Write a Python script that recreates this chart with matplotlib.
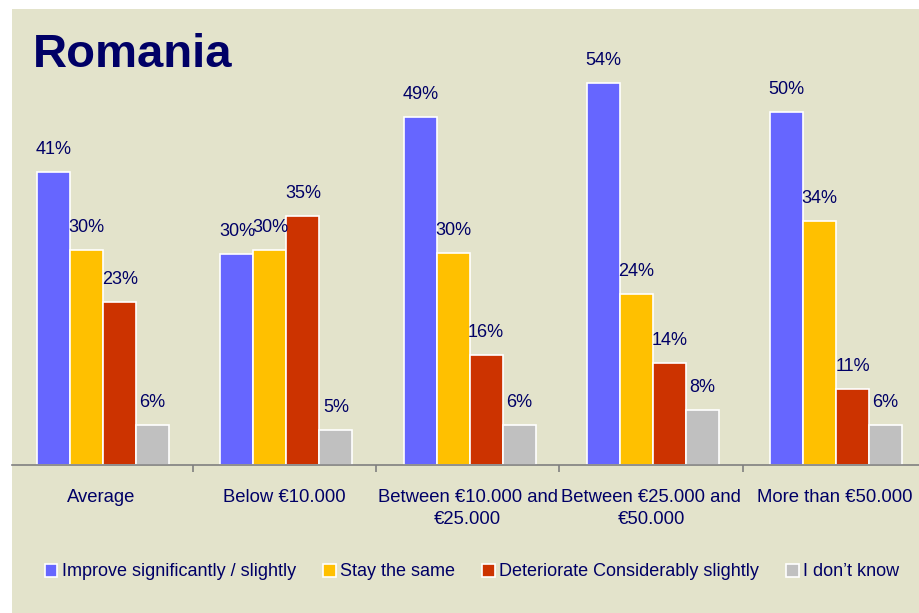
import matplotlib.pyplot as plt
from matplotlib.patches import Rectangle, Patch
import numpy as np

plt.rcParams["font.family"] = ["Liberation Sans", "DejaVu Sans"]

# data
categories = ["Average", "Below €10.000", "Between €10.000 and\n€25.000",
              "Between €25.000 and\n€50.000", "More than €50.000"]
series_names = ["Improve significantly / slightly", "Stay the same",
                "Deteriorate Considerably slightly", "I don\u2019t know"]
improve = [41.4, 29.8, 49.1, 54.0, 49.8]
same = [30.3, 30.4, 30.0, 24.2, 34.4]
deteriorate = [23.0, 35.1, 15.6, 14.4, 10.8]
dont_know = [5.7, 5.0, 5.7, 7.8, 5.6]

colors = ["#6666FF", "#FFC000", "#CC3300", "#C0C0C0"]
BG = "#E3E3CB"
NAVY = "#000066"

W, H = 920, 613
fig = plt.figure(figsize=(W / 100, H / 100), dpi=100, facecolor="white")

# beige panel
fig.patches.append(Rectangle((12 / W, 0), 1, (H - 9) / H, transform=fig.transFigure,
                             facecolor=BG, edgecolor="none", zorder=-10))

ax = fig.add_axes([12 / W, (H - 465) / H, 914 / W, 424.8 / H])
ax.set_facecolor("none")
ax.set_xlim(-0.4875, 4.5)
ax.set_ylim(0, 60)

x = np.arange(len(categories))
bw = 0.18
offsets = np.array([-0.27, -0.09, 0.09, 0.27]) + 0.01
for vals, off, c in zip([improve, same, deteriorate, dont_know], offsets, colors):
    ax.bar(x + off, vals, width=bw, color=c, edgecolor="white", linewidth=1.2, zorder=2)
    for xi, v in zip(x, vals):
        ax.annotate(f"{v:.0f}%", (xi + off, v), xytext=(0, 14), textcoords="offset pixels",
                    ha="center", va="bottom", fontsize=13, color=NAVY)

for s in ["top", "left", "right"]:
    ax.spines[s].set_visible(False)
ax.spines["bottom"].set_color("#808080")
ax.spines["bottom"].set_linewidth(1.2)
ax.set_yticks([])
ax.set_xticks([0.5, 1.5, 2.5, 3.5])
ax.tick_params(axis="x", length=5, color="#808080", width=1.2, labelbottom=False)

for xi, lab in zip(x, categories):
    ax.annotate(lab, (xi, 0), xycoords=("data", "data"), xytext=(0, -24),
                textcoords="offset pixels", ha="center", va="top",
                fontsize=13.3, color=NAVY, linespacing=1.4)

fig.text(33 / W, 1 - 67 / H, "Romania", fontsize=34, fontweight="bold",
         color=NAVY, ha="left", va="baseline")

handles = [Patch(facecolor=c, edgecolor="white", linewidth=1.2) for c in colors]
fig.legend(handles, series_names, loc="center", bbox_to_anchor=(472 / W, 1 - 572 / H),
           ncol=4, frameon=False, fontsize=13, labelcolor=NAVY,
           handlelength=0.7, handleheight=0.7, handletextpad=0.25, columnspacing=1.5)

fig.savefig("out.png", dpi=100, facecolor="white")
